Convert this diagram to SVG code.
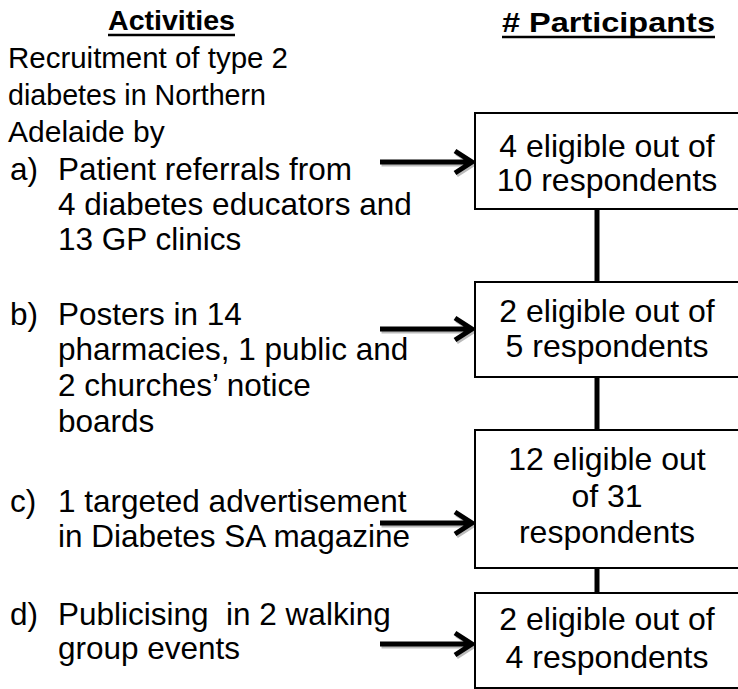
<svg xmlns="http://www.w3.org/2000/svg" width="738" height="689" viewBox="0 0 738 689">
<style>
.h{font-family:"Liberation Sans",Arial,sans-serif;font-weight:bold;font-size:28px;fill:#000}
.t{font-family:"Liberation Sans",Arial,sans-serif;font-size:31.5px;fill:#000;white-space:pre}
.bt{font-family:"Liberation Sans",Arial,sans-serif;font-size:32px;fill:#000;text-anchor:middle}
.box{fill:#fff;stroke:#000;stroke-width:2}
.arr{fill:none;stroke:#000;stroke-width:5}
.sh{fill:none;stroke:#bbb;stroke-width:5}
.vl{stroke:#000;stroke-width:5}
</style>
<rect width="738" height="689" fill="#fff"/>
<g id="headers">
<text class="h" x="108" y="30" textLength="127" lengthAdjust="spacingAndGlyphs">Activities</text>
<line x1="108" y1="35" x2="235" y2="35" stroke="#000" stroke-width="2.5"/>
<text class="h" x="502" y="32" textLength="213" lengthAdjust="spacingAndGlyphs"># Participants</text>
<line x1="502" y1="37" x2="715" y2="37" stroke="#000" stroke-width="2.5"/>
</g>
<g id="activities">
<text class="t" x="8" y="68" style="font-size:30px" textLength="280" lengthAdjust="spacingAndGlyphs">Recruitment of type 2</text>
<text class="t" x="8" y="105" style="font-size:30px" textLength="258" lengthAdjust="spacingAndGlyphs">diabetes in Northern</text>
<text class="t" x="8" y="142" style="font-size:30px">Adelaide by</text>
<g id="act-a">
<text class="t" x="10" y="180">a)</text>
<text class="t" x="58" y="180">Patient referrals from</text>
<text class="t" x="58" y="215">4 diabetes educators and</text>
<text class="t" x="58" y="250">13 GP clinics</text>
</g>
<g id="act-b">
<text class="t" x="10" y="325">b)</text>
<text class="t" x="58" y="325">Posters in 14</text>
<text class="t" x="58" y="360">pharmacies, 1 public and</text>
<text class="t" x="58" y="396">2 churches’ notice</text>
<text class="t" x="58" y="432">boards</text>
</g>
<g id="act-c">
<text class="t" x="10" y="512">c)</text>
<text class="t" x="58" y="512">1 targeted advertisement</text>
<text class="t" x="58" y="547">in Diabetes SA magazine</text>
</g>
<g id="act-d">
<text class="t" x="10" y="625">d)</text>
<text class="t" x="58" y="625">Publicising&#160; in 2 walking</text>
<text class="t" x="58" y="659">group events</text>
</g>
</g>
<g id="connectors">
<line class="vl" x1="597" y1="209" x2="597" y2="282"/>
<line class="vl" x1="597" y1="377" x2="597" y2="430"/>
<line class="vl" x1="597" y1="568" x2="597" y2="593"/>
<g transform="translate(1.5,2)">
<path class="sh" d="M380 162H472M455 151L472 162L455 173"/>
<path class="sh" d="M380 329H472M455 318L472 329L455 340"/>
<path class="sh" d="M380 523H472M455 512L472 523L455 534"/>
<path class="sh" d="M380 644H472M455 633L472 644L455 655"/>
</g>
<path class="arr" d="M380 162H472M455 151L472 162L455 173"/>
<path class="arr" d="M380 329H472M455 318L472 329L455 340"/>
<path class="arr" d="M380 523H472M455 512L472 523L455 534"/>
<path class="arr" d="M380 644H472M455 633L472 644L455 655"/>
</g>
<g id="box1">
<rect class="box" x="475" y="113" width="275" height="96"/>
<text class="bt" x="607" y="157">4 eligible out of</text>
<text class="bt" x="607" y="191">10 respondents</text>
</g>
<g id="box2">
<rect class="box" x="475" y="282" width="275" height="95"/>
<text class="bt" x="607" y="322">2 eligible out of</text>
<text class="bt" x="607" y="357">5 respondents</text>
</g>
<g id="box3">
<rect class="box" x="475" y="430" width="275" height="138"/>
<text class="bt" x="607" y="470">12 eligible out</text>
<text class="bt" x="607" y="507">of 31</text>
<text class="bt" x="607" y="543">respondents</text>
</g>
<g id="box4">
<rect class="box" x="475" y="593" width="275" height="95"/>
<text class="bt" x="607" y="630">2 eligible out of</text>
<text class="bt" x="607" y="668">4 respondents</text>
</g>
</svg>
